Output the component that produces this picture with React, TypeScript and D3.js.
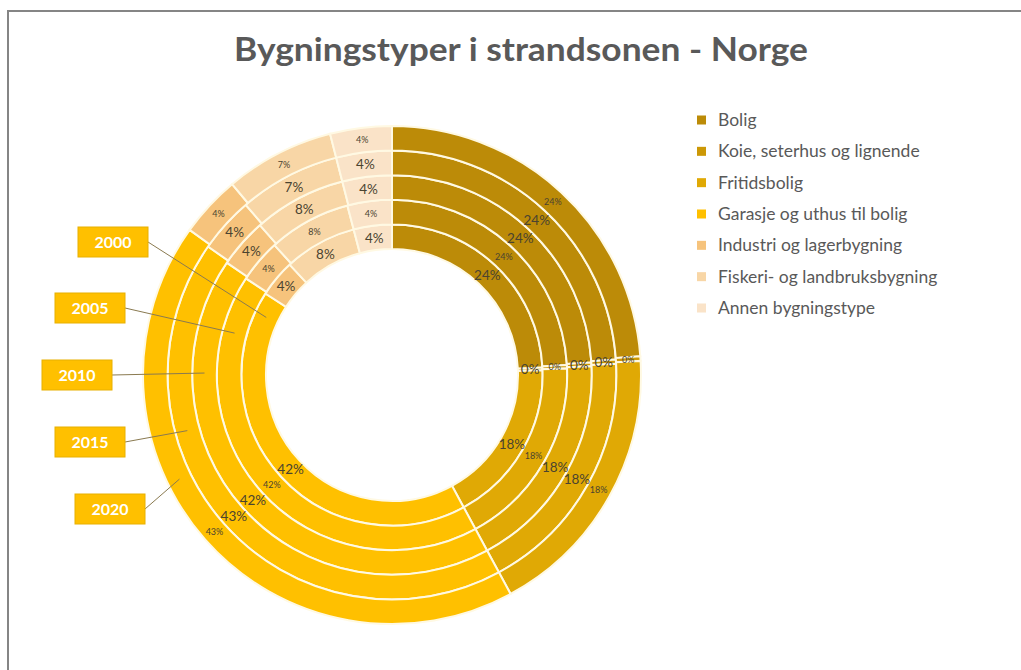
import React from 'react';
import * as d3 from 'd3';

const years = ['2000', '2005', '2010', '2015', '2020'];
const categories = [
  'Bolig',
  'Koie, seterhus og lignende',
  'Fritidsbolig',
  'Garasje og uthus til bolig',
  'Industri og lagerbygning',
  'Fiskeri- og landbruksbygning',
  'Annen bygningstype',
];
// percentage values per category, one value per year (2000..2020)
const bolig = [24.2, 24.1, 24.0, 23.9, 23.8];
const koie = [0.3, 0.3, 0.3, 0.3, 0.3];
const fritidsbolig = [17.6, 17.7, 17.8, 17.9, 18.0];
const garasje = [42.0, 42.2, 42.4, 42.6, 42.8];
const industri = [4.0, 4.0, 4.0, 4.0, 4.0];
const fiskeri = [7.8, 7.6, 7.5, 7.3, 7.1];
const annen = [4.1, 4.1, 4.0, 4.0, 4.0];
const series = [bolig, koie, fritidsbolig, garasje, industri, fiskeri, annen];

const colors = ['#BC8B08', '#CC9806', '#E0A905', '#FFC000', '#F6C37C', '#F8D6A6', '#FAE3C8'];

// layout for year callouts (positions only)
const calloutAngles = [294.6, 284.9, 270.6, 254.8, 243.9];
const calloutBoxes = [
  { x: 78, y: 227 },
  { x: 55, y: 293 },
  { x: 42, y: 360 },
  { x: 55, y: 427 },
  { x: 75, y: 494 },
];
const largeLabel = [true, false, true, true, false];

const W = 1021;
const H = 670;
const cx = 392;
const cy = 375;
const rInner = 126;
const rOuter = 249;

export default function App() {
  const ring = d3.scaleBand<string>().domain(years).range([rInner, rOuter]).padding(0);
  const pie = d3
    .pie<number>()
    .sort(null)
    .value((d) => d);

  const legendY = d3.scalePoint<string>().domain(categories).range([120, 308]);

  return (
    <svg
      width={W}
      height={H}
      style={{ position: 'absolute', left: 0, top: 0, background: '#fff' }}
      fontFamily="Lato, 'Open Sans', sans-serif"
    >
      <rect x={0} y={0} width={W} height={H} fill="#fff" />
      <rect x={8} y={11} width={W + 20} height={H + 20} fill="#fff" stroke="#858585" strokeWidth={2} />
      <text
        x={521}
        y={61}
        textAnchor="middle"
        fontSize={32}
        fontWeight="bold"
        fill="#595959"
        textLength={574}
        lengthAdjust="spacingAndGlyphs"
      >
        Bygningstyper i strandsonen - Norge
      </text>

      <g transform={`translate(${cx},${cy})`}>
        {years.map((yr, yi) => {
          const values = series.map((s) => s[yi]);
          const arcs = pie(values);
          const r0 = ring(yr)!;
          const r1 = r0 + ring.bandwidth();
          const arc = d3.arc<d3.PieArcDatum<number>>().innerRadius(r0).outerRadius(r1);
          return (
            <g key={yr}>
              {arcs.map((a, ci) => (
                <path key={ci} d={arc(a)!} fill={colors[ci]} stroke="#FFF9E3" strokeWidth={2} />
              ))}
            </g>
          );
        })}
        {years.map((yr, yi) => {
          const values = series.map((s) => s[yi]);
          const arcs = pie(values);
          const r0 = ring(yr)!;
          const r1 = r0 + ring.bandwidth();
          const arc = d3.arc<d3.PieArcDatum<number>>().innerRadius(r0).outerRadius(r1);
          return (
            <g key={'l' + yr}>
              {arcs.map((a, ci) => {
                const [x, y] = arc.centroid(a);
                return (
                  <text
                    key={ci}
                    x={x}
                    y={y}
                    dy="0.35em"
                    textAnchor="middle"
                    fontSize={largeLabel[yi] ? 13.5 : 9}
                    fill="#4a4330"
                  >
                    {Math.round(values[ci])}%
                  </text>
                );
              })}
            </g>
          );
        })}
      </g>

      {years.map((yr, yi) => {
        const r = ring(yr)! + ring.bandwidth() / 2;
        const ang = (calloutAngles[yi] * Math.PI) / 180;
        const ex = cx + r * Math.sin(ang);
        const ey = cy - r * Math.cos(ang);
        const b = calloutBoxes[yi];
        const bw = 70;
        const bh = 30;
        return (
          <g key={'c' + yr}>
            <line x1={b.x + bw} y1={b.y + bh / 2} x2={ex} y2={ey} stroke="#8a7a50" strokeWidth={1} />
            <rect x={b.x} y={b.y} width={bw} height={bh} fill="#FFC000" stroke="#E8B000" strokeWidth={1} />
            <text
              x={b.x + bw / 2}
              y={b.y + bh / 2}
              dy="0.36em"
              textAnchor="middle"
              fontSize={16}
              fontWeight="bold"
              fill="#fff"
            >
              {yr}
            </text>
          </g>
        );
      })}

      {categories.map((c, i) => {
        const y = legendY(c)!;
        return (
          <g key={c}>
            <rect x={697} y={y - 4.5} width={9} height={9} fill={colors[i]} />
            <text x={718} y={y} dy="0.35em" fontSize={17.5} fill="#595959">
              {c}
            </text>
          </g>
        );
      })}
    </svg>
  );
}
